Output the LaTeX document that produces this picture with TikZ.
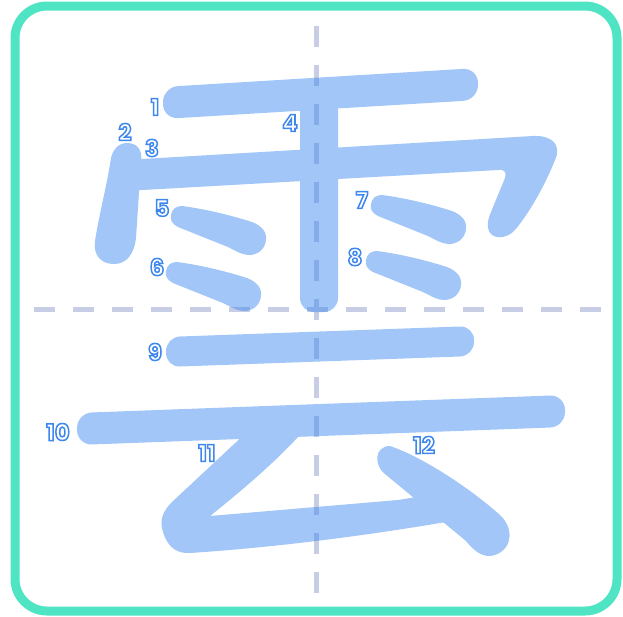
\documentclass[tikz,border=0pt]{standalone}
\usepackage{fontspec}
\setmainfont{Poppins}
\usepackage{tikz}
\definecolor{framegreen}{HTML}{4FE5C4}
\definecolor{guidegray}{HTML}{C7CDE4}
\definecolor{inkblue}{HTML}{438DEF}
\tikzset{
  guide/.style={guidegray,line width=5,dash pattern=on 21 off 18},
  ink/.style={fill=inkblue},
  num/.style={inner sep=0pt,font=\fontsize{23}{23}\selectfont\bfseries},
  dianstroke/.pic={
    \fill[ink] (182,206) .. controls (205,209) and (230,215) .. (252,222)
      .. controls (262,226) and (267,232) .. (266,240)
      .. controls (265,250) and (257,255) .. (249,255)
      .. controls (242,255) and (236,251) .. (228,247) -- (178,227)
      .. controls (172,224) and (170,220) .. (171,215)
      .. controls (172,209) and (176,206) .. (182,206) -- cycle;
  }
}
% white digits with a blue outline (fill+stroke text mode)
\newcommand{\strokenum}[1]{\special{pdf:literal direct 2 Tr 1.5 w 0.24 0.53 0.93 RG 1 g}#1\special{pdf:literal direct 0 Tr}}

\begin{document}
\begin{tikzpicture}[x=1pt,y=-1pt]
\useasboundingbox (0,0) rectangle (623,616);
\draw[framegreen,line width=9,rounded corners=32] (15,6) rectangle (617,611);

%guide lines
\draw[guide] (316,26) -- (316,593);
\draw[guide] (34,309) -- (601,309);

\begin{scope}[transparency group,opacity=0.5]
%1
\fill[ink,rounded corners=15] (320,77.5) -- (478,68) -- (478,100) -- (163,119) -- (163,87) -- cycle;
%2
\fill[ink] (127,143) .. controls (137,143) and (143,150) .. (141,162) -- (136,238)
  .. controls (134,255) and (126,264) .. (114,264)
  .. controls (101,264) and (93,255) .. (95,241)
  .. controls (99,215) and (107,185) .. (111,158)
  .. controls (113,149) and (119,143) .. (127,143) -- cycle;
%3
\fill[ink] (330,148) -- (533,136) .. controls (552,135) and (562,145) .. (555,160)
  .. controls (545,185) and (530,212) .. (515,230)
  .. controls (506,240) and (490,240) .. (488,228)
  .. controls (487,222) and (489,217) .. (491,212) -- (505,178)
  .. controls (507,172) and (504,169) .. (498,170) -- (125,191) -- (125,160) -- cycle;
%4
\fill[ink,rounded corners=14] (300,95) rectangle (338,312);
%5 6 7 8
\pic at (0,0) {dianstroke};
\pic at (-5,56) {dianstroke};
\pic at (200,-11) {dianstroke};
\pic at (195,45) {dianstroke};
%9
\fill[ink,rounded corners=14] (320,331.5) -- (474,326) -- (474,356) -- (166,367) -- (166,337) -- cycle;
%10
\fill[ink,rounded corners=15] (320,404) -- (565,395) -- (565,427) -- (77,445) -- (77,413) -- cycle;
%11
\fill[ink] (247,432) -- (300,430) -- (298,437) .. controls (272,465) and (240,492) .. (210,516)
  -- (398,500) -- (440,493) -- (452,521)
  .. controls (370,535) and (280,547) .. (190,553)
  .. controls (175,554) and (167,545) .. (163,532)
  .. controls (159,520) and (163,511) .. (172,502) -- cycle;
%12
\fill[ink] (390,446) .. controls (425,458) and (472,490) .. (500,515)
  .. controls (513,527) and (514,548) .. (495,555)
  .. controls (484,559) and (474,551) .. (466,541) -- (385,474)
  .. controls (374,466) and (374,446) .. (390,446) -- cycle;
\end{scope}

\node[num] (n1) at (155,107) {\strokenum{1}};
\node[num] (n2) at (125,132) {\strokenum{2}};
\node[num] (n3) at (152,148) {\strokenum{3}};
\node[num] (n4) at (290,123) {\strokenum{4}};
\node[num] (n5) at (162,208) {\strokenum{5}};
\node[num] (n6) at (157,267) {\strokenum{6}};
\node[num] (n7) at (362,200) {\strokenum{7}};
\node[num] (n8) at (355,257) {\strokenum{8}};
\node[num] (n9) at (155,352) {\strokenum{9}};
\node[num] (n10) at (58,432) {\strokenum{10}};
\node[num] (n11) at (207,453) {\strokenum{11}};
\node[num] (n12) at (424,445) {\strokenum{12}};
\end{tikzpicture}
\end{document}
